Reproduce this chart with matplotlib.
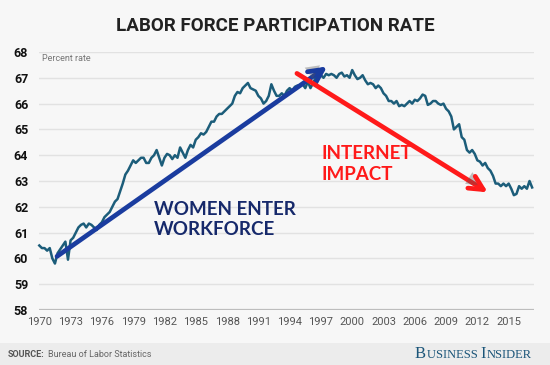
import numpy as np
import matplotlib.pyplot as plt
import matplotlib.patheffects as pe
from matplotlib.patches import Rectangle

# quarterly labor force participation rate (1970 Q1 -> 2017 Q2)
rate = [
    60.5, 60.4, 60.4, 60.3,     # 1970
    60.4, 60.0, 59.8, 60.2,     # 1971
    60.35, 60.5, 60.65, 59.95,  # 1972
    60.7, 60.8, 61.0, 61.2,     # 1973
    61.3, 61.35, 61.2, 61.35,   # 1974
    61.3, 61.2, 61.1, 61.3,     # 1975
    61.4, 61.6, 61.7, 61.8,     # 1976
    62.0, 62.2, 62.3, 62.6,     # 1977
    62.9, 63.25, 63.4, 63.6,    # 1978
    63.8, 63.7, 63.8, 63.9,     # 1979
    63.9, 63.7, 63.7, 63.9,     # 1980
    64.0, 64.2, 63.9, 63.6,     # 1981
    63.9, 64.05, 64.0, 63.85,   # 1982
    64.0, 63.9, 64.3, 64.1,     # 1983
    63.9, 64.2, 64.4, 64.3,     # 1984
    64.6, 64.7, 64.85, 64.8,    # 1985
    64.9, 65.1, 65.3, 65.3,     # 1986
    65.5, 65.6, 65.6, 65.7,     # 1987
    65.8, 65.9, 66.0, 66.3,     # 1988
    66.45, 66.4, 66.6, 66.7,    # 1989
    66.8, 66.6, 66.55, 66.5,    # 1990
    66.3, 66.2, 66.0, 66.1,     # 1991
    66.3, 66.75, 66.5, 66.3,    # 1992
    66.3, 66.4, 66.3, 66.5,     # 1993
    66.6, 66.5, 66.65, 66.7,    # 1994
    66.7, 66.75, 66.6, 66.85,   # 1995
    66.6, 66.8, 67.0, 67.1,     # 1996
    67.1, 67.0, 67.15, 67.1,    # 1997
    67.15, 67.1, 67.0, 67.15,   # 1998
    67.2, 67.05, 67.1, 67.0,    # 1999
    67.3, 67.1, 66.95, 67.0,    # 2000
    67.1, 66.9, 66.75, 66.8,    # 2001
    66.75, 66.6, 66.7, 66.6,    # 2002
    66.4, 66.3, 66.1, 66.1,     # 2003
    66.0, 66.1, 65.9, 65.95,    # 2004
    65.9, 66.0, 66.1, 66.0,     # 2005
    66.15, 66.1, 66.2, 66.35,   # 2006
    66.3, 65.95, 66.0, 66.1,    # 2007
    66.1, 66.0, 65.95, 66.0,    # 2008
    65.8, 65.7, 65.5, 65.0,     # 2009
    65.1, 65.2, 64.7, 64.6,     # 2010
    64.2, 64.1, 64.2, 64.05,    # 2011
    63.8, 63.75, 63.6, 63.7,    # 2012
    63.5, 63.4, 63.2, 62.9,     # 2013
    62.9, 62.8, 62.9, 62.8,     # 2014
    62.9, 62.7, 62.45, 62.5,    # 2015
    62.8, 62.7, 62.8, 62.7,     # 2016
    63.0, 62.75,                # 2017
]
years = 1970 + 0.25 * np.arange(len(rate))

xticks = list(range(1970, 2016, 3))
yticks = list(range(58, 69))

# annotation arrows (start, end) in data coords
women_arrow = ((1971.7, 60.08), (1997.6, 67.44))
internet_arrow = ((1994.7, 67.17), (2013.0, 62.56))

bg = '#f7f7f7'
fig = plt.figure(figsize=(5.5, 3.65), dpi=100, facecolor=bg)
fig.patches.append(Rectangle((0, 0), 1, 22.5 / 365, transform=fig.transFigure,
                             facecolor='#ececec', edgecolor='none', zorder=0))

ax = fig.add_axes([39.3 / 550, 1 - 310 / 365, (534 - 39.3) / 550, (310 - 52) / 365])
ax.set_facecolor(bg)
for s in ax.spines.values():
    s.set_visible(False)

ax.set_xlim(1970, 2017.43)
ax.set_ylim(58, 68)
ax.set_xticks(xticks)
ax.set_xticklabels([str(t) for t in xticks], fontsize=8, color='#555555', family='Roboto')
ax.set_yticks(yticks)
ax.set_yticklabels([str(t) for t in yticks], fontsize=9, fontweight='bold',
                   color='#111111', family='Roboto')
ax.tick_params(axis='x', length=0, pad=5)
ax.tick_params(axis='y', length=0, pad=8)
ax.grid(axis='y', color='#e2e2e2', lw=1)
ax.grid(axis='x', visible=False)
ax.axhline(58, color='#bdbdbd', lw=1.6, zorder=3)

ax.plot(years, rate, color='#1c5d7a', lw=1.8, zorder=4, clip_on=False)

ax.text(1970.3, 67.75, 'Percent rate', fontsize=6.5, color='#777777',
        family='Roboto', va='center', ha='left')

shadow = [pe.SimplePatchShadow(offset=(-2, 3), shadow_rgbFace='#555555', alpha=0.35),
          pe.Normal()]
for (p0, p1), col in [(women_arrow, '#1a3c9f'), (internet_arrow, '#ff1a1a')]:
    a = ax.annotate('', xy=p1, xytext=p0, zorder=5,
                    arrowprops=dict(arrowstyle='->, head_length=1.0, head_width=0.5',
                                    color=col, lw=3.4, shrinkA=0, shrinkB=0))
    a.arrow_patch.set_path_effects(shadow)

ax.text(1981.0, 61.5, 'WOMEN ENTER\nWORKFORCE', fontsize=13.5, fontweight='bold',
        color='#16296b', family='Lato', ha='left', va='center', linespacing=1.25, zorder=6)
ax.text(1997.1, 63.66, 'INTERNET\nIMPACT', fontsize=13.5, fontweight='bold',
        color='#ff1a1a', family='Lato', ha='left', va='center', linespacing=1.25, zorder=6)

fig.text(0.5, 1 - 26 / 365, 'LABOR FORCE PARTICIPATION RATE', fontsize=13.5,
         fontweight='bold', color='#222222', family='Roboto', ha='center', va='center')

# footer: source line, then small-caps style logo
src = fig.text(8 / 550, 8 / 365, 'SOURCE:', fontsize=6.5, fontweight='bold',
               color='#555555', family='Roboto', ha='left', va='baseline')
fig.canvas.draw()
bb = src.get_window_extent()
fig.text((bb.x1 + 3) / 550, 8 / 365, 'Bureau of Labor Statistics', fontsize=6.5,
         color='#666666', family='Roboto', ha='left', va='baseline')

brand = [('B', 12), ('USINESS ', 9), ('I', 12), ('NSIDER', 9)]
x = 415
for txt, fs in brand:
    t = fig.text(x / 550, 7 / 365, txt, fontsize=fs, color='#1b5579',
                 family='Liberation Serif', ha='left', va='baseline')
    fig.canvas.draw()
    x = t.get_window_extent().x1 + 0.5

fig.savefig('out.png', dpi=100, facecolor=bg)
